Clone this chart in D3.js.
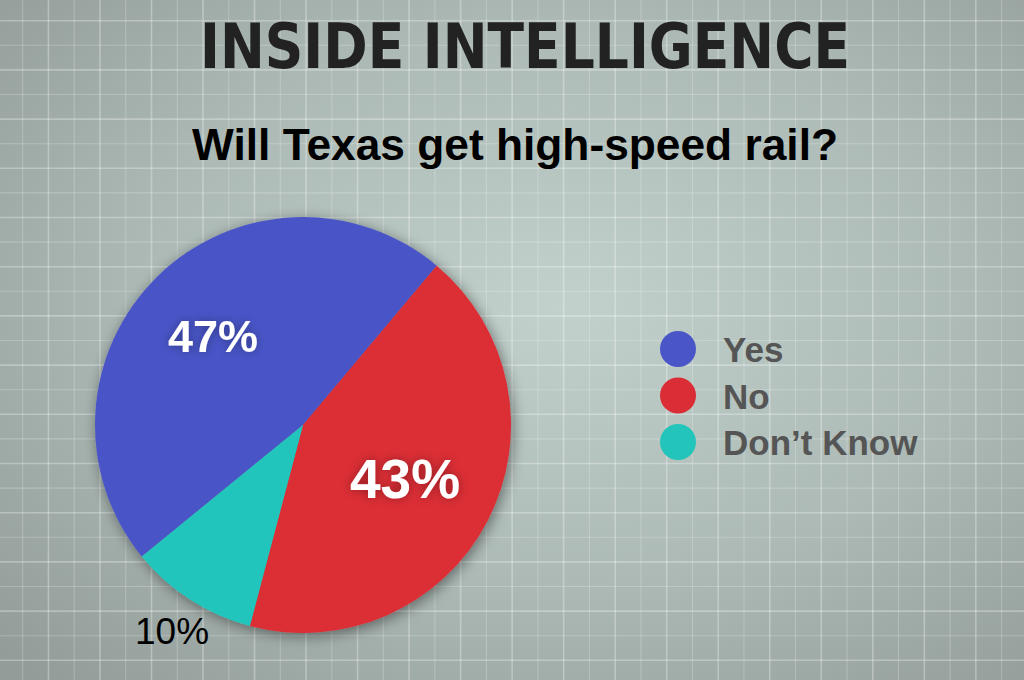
<!DOCTYPE html>
<html>
<head>
<meta charset="utf-8">
<script src="https://cdn.jsdelivr.net/npm/d3@7"></script>
<style>
  body { margin: 0; padding: 0; overflow: hidden; }
  svg { display: block; }
</style>
</head>
<body>
<svg id="chart" width="1024" height="680"></svg>
<script>
// data
const categories = ["Yes", "No", "Don\u2019t Know"];
const values = [47, 43, 10];
const colors = ["#4a55c7", "#db2d36", "#23c5bb"];
const titleText = "INSIDE INTELLIGENCE";
const subtitleText = "Will Texas get high-speed rail?";

const width = 1024, height = 680;
const svg = d3.select("#chart");
const defs = svg.append("defs");

// background gradient, lighter in the middle
let bg = defs.append("radialGradient")
    .attr("id", "bgGrad")
    .attr("cx", "0.55").attr("cy", "0.45").attr("r", "0.75");
bg.append("stop").attr("offset", "0%").attr("stop-color", "#c2d1cc");
bg.append("stop").attr("offset", "55%").attr("stop-color", "#acb9b5");
bg.append("stop").attr("offset", "100%").attr("stop-color", "#929c99");

svg.append("rect")
    .attr("width", width).attr("height", height)
    .attr("fill", "url(#bgGrad)");

// grid lines
let grid = svg.append("g").attr("class", "grid");
let gx = d3.range(22.7, width, 25.76);
let gy = d3.range(20.7, height, 24.6);
grid.selectAll("line.v").data(gx).join("line")
    .attr("class", "v")
    .attr("x1", d => d).attr("x2", d => d)
    .attr("y1", 0).attr("y2", height)
    .attr("stroke", "#ffffff")
    .attr("stroke-opacity", (d, i) => i % 2 === 1 ? 0.3 : 0.22)
    .attr("stroke-width", (d, i) => i % 2 === 1 ? 1.6 : 1.1);
grid.selectAll("line.h").data(gy).join("line")
    .attr("class", "h")
    .attr("y1", d => d).attr("y2", d => d)
    .attr("x1", 0).attr("x2", width)
    .attr("stroke", "#ffffff")
    .attr("stroke-opacity", (d, i) => i % 2 === 0 ? 0.3 : 0.22)
    .attr("stroke-width", (d, i) => i % 2 === 0 ? 1.6 : 1.1);

// titles
svg.append("text")
    .attr("x", 525).attr("y", 68)
    .attr("text-anchor", "middle")
    .attr("font-family", "'Liberation Sans Narrow', 'DejaVu Sans Condensed', sans-serif")
    .attr("font-weight", "bold")
    .attr("font-size", 63)
    .attr("fill", "#222222")
    .attr("textLength", 650)
    .attr("lengthAdjust", "spacingAndGlyphs")
    .text(titleText);

svg.append("text")
    .attr("x", 515).attr("y", 160)
    .attr("text-anchor", "middle")
    .attr("font-family", "'Liberation Sans', Arial, sans-serif")
    .attr("font-weight", "bold")
    .attr("font-size", 44)
    .attr("fill", "#000000")
    .attr("textLength", 646)
    .attr("lengthAdjust", "spacingAndGlyphs")
    .text(subtitleText);

// pie
const cx = 303, cy = 425, radius = 208;

let shadow = defs.append("filter").attr("id", "pieShadow")
    .attr("x", "-20%").attr("y", "-20%").attr("width", "140%").attr("height", "140%");
shadow.append("feDropShadow")
    .attr("dx", 2).attr("dy", 3).attr("stdDeviation", 7)
    .attr("flood-color", "#000").attr("flood-opacity", 0.45);

let glow = defs.append("filter").attr("id", "textGlow")
    .attr("x", "-30%").attr("y", "-40%").attr("width", "160%").attr("height", "180%");
glow.append("feDropShadow")
    .attr("dx", 0).attr("dy", 0).attr("stdDeviation", 5)
    .attr("flood-color", "#000").attr("flood-opacity", 0.35);

const pie = d3.pie()
    .sort(null)
    .value(d => d)
    .startAngle(-129.2 * Math.PI / 180)
    .endAngle(230.8 * Math.PI / 180);

const arc = d3.arc().innerRadius(0).outerRadius(radius);
const arcs = pie(values);

let pieG = svg.append("g")
    .attr("transform", "translate(" + cx + "," + cy + ")");

pieG.append("g").attr("filter", "url(#pieShadow)")
    .selectAll("path").data(arcs).join("path")
    .attr("d", arc)
    .attr("fill", (d, i) => colors[i]);

// percent labels, placed by angle (deg from 12 o'clock) and radius fraction
let labelSpecs = [
    { ang: -45.2, r: 0.61, size: 45, color: "#ffffff", weight: "bold", glow: true },
    { ang: 117.5, r: 0.553, size: 55, color: "#ffffff", weight: "bold", glow: true },
    { ang: 212.5, r: 1.172, size: 37, color: "#000000", weight: "normal", glow: false }
];

pieG.selectAll("text.pct").data(arcs).join("text")
    .attr("class", "pct")
    .attr("x", (d, i) => Math.sin(labelSpecs[i].ang * Math.PI / 180) * radius * labelSpecs[i].r)
    .attr("y", (d, i) => -Math.cos(labelSpecs[i].ang * Math.PI / 180) * radius * labelSpecs[i].r)
    .attr("dy", "0.36em")
    .attr("text-anchor", "middle")
    .attr("font-family", "'Liberation Sans', Arial, sans-serif")
    .attr("font-weight", (d, i) => labelSpecs[i].weight)
    .attr("font-size", (d, i) => labelSpecs[i].size)
    .attr("fill", (d, i) => labelSpecs[i].color)
    .attr("filter", (d, i) => labelSpecs[i].glow ? "url(#textGlow)" : null)
    .text(d => d.data + "%");

// legend
let legend = svg.append("g").attr("transform", "translate(678,349)");
let items = legend.selectAll("g.item").data(categories).join("g")
    .attr("class", "item")
    .attr("transform", (d, i) => "translate(0," + (i * 46.5) + ")");
items.append("circle")
    .attr("r", 18)
    .attr("fill", (d, i) => colors[i]);
items.append("text")
    .attr("x", 45)
    .attr("y", 13)
    .attr("font-family", "'Liberation Sans', Arial, sans-serif")
    .attr("font-weight", "bold")
    .attr("font-size", 35)
    .attr("fill", "#555555")
    .text(d => d);
</script>
</body>
</html>
